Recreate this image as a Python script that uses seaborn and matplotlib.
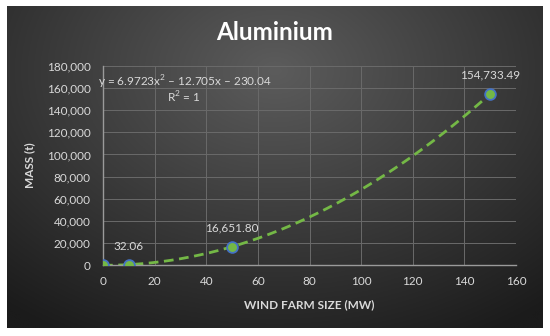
import numpy as np
import pandas as pd
import matplotlib
matplotlib.use("Agg")
import matplotlib.pyplot as plt
import seaborn as sns

# Data
wind_farm_mw = [0, 10, 50, 150]
mass_t = [0, 32.06, 16651.80, 154733.49]
label_text = ["", "32.06", "16,651.80", "154,733.49"]
x_ticks = [0, 20, 40, 60, 80, 100, 120, 140, 160]
y_ticks = [0, 20000, 40000, 60000, 80000, 100000, 120000, 140000, 160000, 180000]
equation = "y = 6.9723x$^2$ \u2013 12.705x \u2013 230.04"
r2_text = "R$^2$ = 1"

df = pd.DataFrame({"size": wind_farm_mw, "mass": mass_t})

# quadratic trendline fitted to the points (same as Excel's polynomial trendline)
coef = np.polyfit(df["size"], df["mass"], 2)
xs = np.linspace(0, 150, 200)
trend = pd.DataFrame({"size": xs, "mass": np.polyval(coef, xs)})

sns.set_style("dark")
plt.rcParams["font.family"] = ["Lato", "DejaVu Sans"]
plt.rcParams["mathtext.fontset"] = "custom"
plt.rcParams["mathtext.rm"] = "Lato"

TXT = "#d9d9d9"
GREEN = "#74b846"
BLUE = "#4472c4"

fig = plt.figure(figsize=(5.5, 3.36), dpi=100, facecolor="white")

# dark radial gradient chart background
bg = fig.add_axes([7 / 550, 8 / 336, 536 / 550, 322 / 336])
gy, gx = np.mgrid[0:1:200j, 0:1:300j]
d = np.sqrt(((gx - 0.5) * 1.2) ** 2 + ((gy - 0.2) * 1.0) ** 2)
d = np.clip(d / 0.95, 0, 1)
c0 = np.array([0x5c, 0x5c, 0x5c]) / 255
c1 = np.array([0x1b, 0x1b, 0x1b]) / 255
img = c0[None, None, :] * (1 - d[..., None]) + c1[None, None, :] * d[..., None]
bg.imshow(img, aspect="auto", extent=[0, 1, 0, 1], origin="upper")
bg.set_axis_off()

ax = fig.add_axes([103 / 550, 71 / 336, 413 / 550, 199 / 336])
ax.set_facecolor("none")

sns.lineplot(data=trend, x="size", y="mass", ax=ax, color=GREEN, lw=2.0,
             linestyle=(0, (3.5, 2)), zorder=2)
sns.scatterplot(data=df, x="size", y="mass", ax=ax, s=60, color=GREEN,
                edgecolor=BLUE, linewidth=1.3, zorder=3)

for xv, yv, t in zip(wind_farm_mw, mass_t, label_text):
    if t:
        ax.annotate(t, (xv, yv), xytext=(0, 9.5), textcoords="offset points",
                    ha="center", va="bottom", color=TXT, fontsize=8.5)

ax.set_xlim(0, 160)
ax.set_ylim(0, 180000)
ax.set_xticks(x_ticks)
ax.set_yticks(y_ticks)
ax.set_yticklabels([f"{v:,}" for v in y_ticks])
ax.tick_params(colors=TXT, labelsize=8.5, length=0)
ax.tick_params(axis="x", pad=8)
ax.tick_params(axis="y", pad=9)
ax.grid(True, color="#6a6a6a", lw=0.7)
for s in ["top", "right"]:
    ax.spines[s].set_visible(False)
for s in ["left", "bottom"]:
    ax.spines[s].set_visible(True)
    ax.spines[s].set_color("#9a9a9a")
    ax.spines[s].set_linewidth(1.0)

ax.set_xlabel("WIND FARM SIZE (MW)", color=TXT, fontsize=8.5, fontweight="bold", labelpad=9)
ax.set_ylabel("MASS (t)", color=TXT, fontsize=8.5, fontweight="bold", labelpad=8)

fig.text(185 / 550, 1 - 82 / 336, equation, color=TXT, fontsize=8.5, ha="center", va="center")
fig.text(184 / 550, 1 - 97 / 336, r2_text, color=TXT, fontsize=8.5, ha="center", va="center")
fig.text(275 / 550, 1 - 33 / 336, "Aluminium", color="white", fontsize=17.5,
         fontweight="bold", ha="center", va="center")

fig.savefig("out.png", dpi=100, facecolor="white")
